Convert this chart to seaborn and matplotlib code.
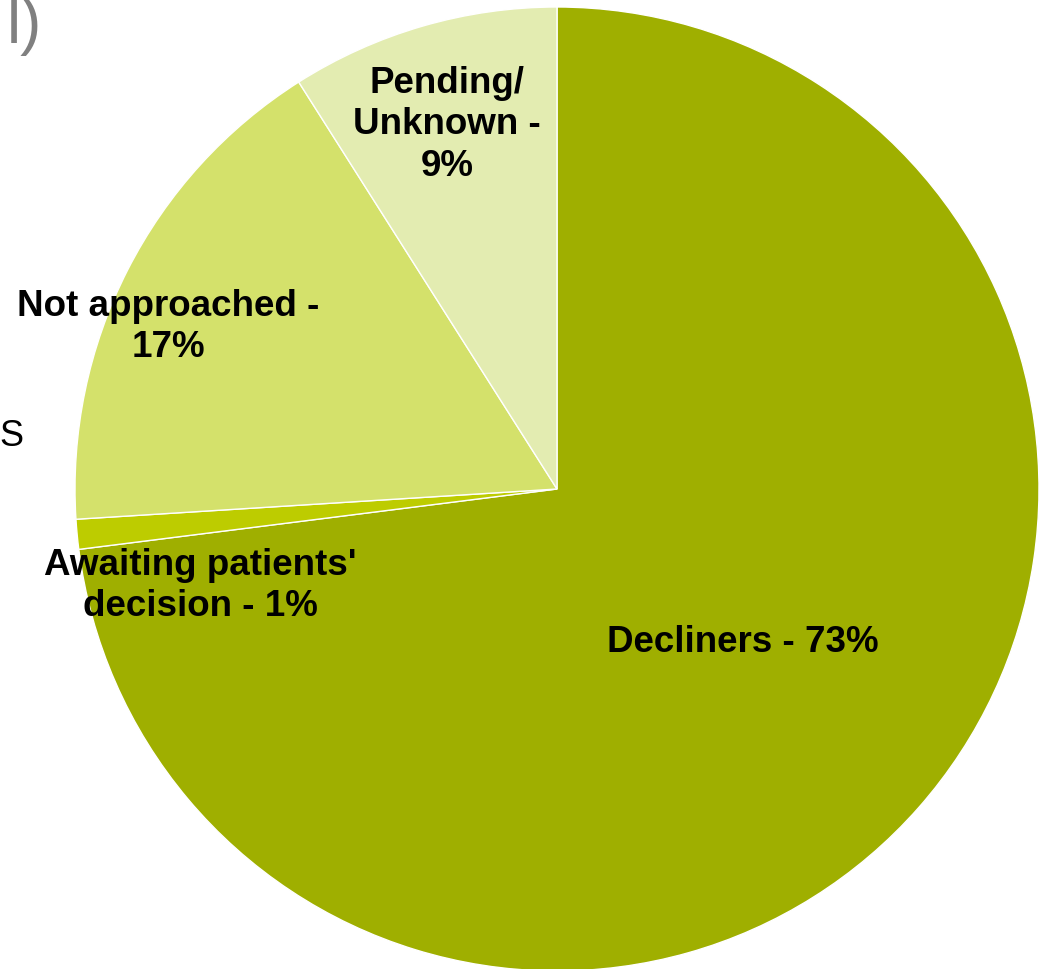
import matplotlib
matplotlib.use("Agg")
import matplotlib.pyplot as plt
import seaborn as sns

categories = ["Decliners", "Awaiting patients' decision", "Not approached", "Pending/ Unknown"]
values = [73, 1, 17, 9]
labels = ["Decliners - 73%", "Awaiting patients'\ndecision - 1%", "Not approached -\n17%", "Pending/\nUnknown -\n9%"]
colors = ["#9FAF00", "#BDCC00", "#D4E16B", "#E3ECB1"]

sns.set_theme(style="white")
plt.rcParams['font.family'] = ['Liberation Sans', 'DejaVu Sans']

W, H = 1039, 969
fig = plt.figure(figsize=(W / 100, H / 100), dpi=100)
ax = fig.add_axes([0, 0, 1, 1])
cx, cy, R = 557, 489, 482

def d(px, py):
    return (px - cx) / R, (cy - py) / R

ax.pie(values, colors=colors, startangle=90, counterclock=False, radius=1.0,
       wedgeprops=dict(edgecolor="white", linewidth=1))
ax.set_xlim(-cx / R, (W - cx) / R)
ax.set_ylim(-(H - cy) / R, cy / R)
ax.set_aspect("auto")
ax.axis("off")

label_pos = [(743, 642), (200, 586), (168, 327), (447, 125)]
for lab, (px, py) in zip(labels, label_pos):
    x, y = d(px, py)
    ax.text(x, y, lab, ha="center", va="center", fontsize=26.5, fontweight="bold",
            color="black", linespacing=1.25)

# cropped fragments at the edges
x, y = d(7, 43)
ax.text(x, y, "l)", ha="left", va="baseline", fontsize=46, color="#808080")
x, y = d(-1, 446)
ax.text(x, y, "S", ha="left", va="baseline", fontsize=26, color="black")

fig.savefig("out.png", dpi=100)
